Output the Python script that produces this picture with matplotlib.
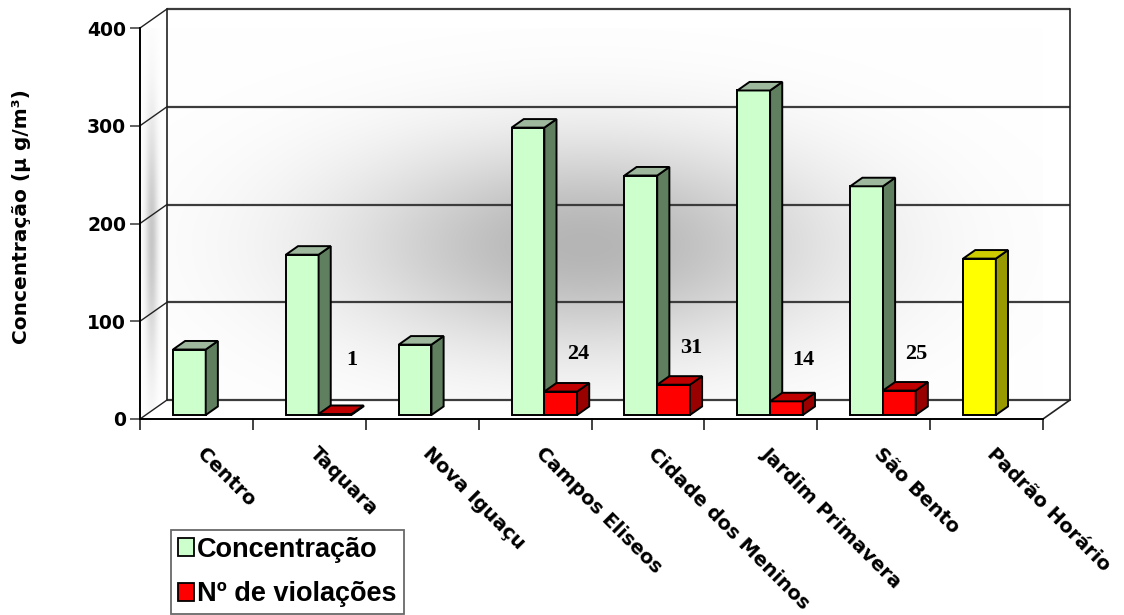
import numpy as np
import matplotlib
matplotlib.use("Agg")
import matplotlib.pyplot as plt
from matplotlib.patches import Polygon, Patch

# ---- data -------------------------------------------------------------
categories = ["Centro", "Taquara", "Nova Iguaçu", "Campos Eliseos",
              "Cidade dos Meninos", "Jardim Primavera", "São Bento",
              "Padrão Horário"]
concentracao = [67, 164, 72, 294, 245, 332, 234, 160]
violacoes = [None, 1, None, 24, 31, 14, 25, None]
yticks = [0, 100, 200, 300, 400]
legend_labels = ["Concentração", "Nº de violações"]
ylabel = "Concentração (μ g/m³)"

# ---- figure / axes frame -----------------------------------------------
W, H = 1124, 615
fig = plt.figure(figsize=(W / 100, H / 100), dpi=100)
fig.patch.set_facecolor("white")
PX0, PX1, PY0, PY1 = 140, 1043, 419, 28
ax = fig.add_axes([PX0 / W, 1 - PY0 / H, (PX1 - PX0) / W, (PY0 - PY1) / H])
n = len(categories)
ymax = yticks[-1]
ax.set_xlim(0, n)
ax.set_ylim(0, ymax)
ax.patch.set_visible(False)

sx = (PX1 - PX0) / n          # pixels per category
sy = (PY0 - PY1) / ymax       # pixels per value unit
DX = 27 / sx                  # depth offset (data units)
DY = 19 / sy


def proj(x, v, z):
    return (x + z * DX, v + z * DY)


# ---- walls and floor -----------------------------------------------------
back = Polygon([(DX, DY), (n + DX, DY), (n + DX, ymax + DY), (DX, ymax + DY)],
               closed=True, fc="none", ec="none", zorder=0)
left = Polygon([(0, 0), (DX, DY), (DX, ymax + DY), (0, ymax)],
               closed=True, fc="none", ec="none", zorder=0)
floor = Polygon([(0, 0), (n, 0), (n + DX, DY), (DX, DY)],
                closed=True, fc="white", ec="none", zorder=0)
for p in (back, left, floor):
    p.set_clip_on(False)
    ax.add_patch(p)

# shaded background for the walls (computed on a pixel grid)
gx = np.linspace(0, n + DX, 600)
gy = np.linspace(0, ymax + DY, 400)
XX, YY = np.meshgrid(gx, gy)
PXg = PX0 + XX * sx
PYg = PY0 - YY * sy
shade_back = 1 - 0.29 * np.exp(-((PXg - 585) / 240) ** 2 - ((PYg - 245) / 105) ** 2)
img = ax.imshow(np.dstack([shade_back] * 3), extent=[0, n + DX, 0, ymax + DY],
                origin="lower", aspect="auto", zorder=0, interpolation="bilinear")
img.set_clip_path(back)
shade_left = 1 - 0.22 * np.exp(-((PXg - 151) / 6) ** 2 - ((PYg - 240) / 120) ** 2)
img2 = ax.imshow(np.dstack([shade_left] * 3), extent=[0, n + DX, 0, ymax + DY],
                 origin="lower", aspect="auto", zorder=0, interpolation="bilinear")
img2.set_clip_path(left)

# gridlines on the back wall and their depth lines on the side wall
for v in yticks:
    ax.plot([DX, n + DX], [v + DY, v + DY], color="#3c3c3c", lw=1.6,
            zorder=1, clip_on=False, solid_capstyle="butt")
    ax.plot([0, DX], [v, v + DY], color="#222222", lw=1.0, zorder=1, clip_on=False)
ax.plot([DX, DX], [DY, ymax + DY], color="#222222", lw=1.2, zorder=1, clip_on=False)
ax.plot([n + DX, n + DX], [DY, ymax + DY], color="#222222", lw=1.2, zorder=1, clip_on=False)
ax.plot([n, n + DX], [0, DY], color="#222222", lw=1.2, zorder=1, clip_on=False)

# ---- 3-D columns ---------------------------------------------------------
Z0, Z1 = 0.21, 0.66
BW = 0.29
G_OFF = 0.242


def column(x, v, front, top, side, zo):
    a = proj(x, 0, Z0); b = proj(x + BW, 0, Z0)
    c = proj(x + BW, v, Z0); d = proj(x, v, Z0)
    b2 = proj(x + BW, 0, Z1); c2 = proj(x + BW, v, Z1); d2 = proj(x, v, Z1)
    faces = [([a, b, c, d], front), ([b, b2, c2, c], side), ([d, c, c2, d2], top)]
    for pts, col in faces:
        ax.add_patch(Polygon(pts, closed=True, fc=col, ec="black", lw=1.4,
                             joinstyle="miter", zorder=zo, clip_on=False))


for i, (cv, vv) in enumerate(zip(concentracao, violacoes)):
    xg = i + G_OFF
    if i == n - 1:
        column(xg, cv, "#FFFF00", "#CCCC00", "#999900", 3 + i * 0.01)
    else:
        column(xg, cv, "#CCFFCC", "#9DB89D", "#5F7F5F", 3 + i * 0.01)
    if vv is not None:
        xr = xg + BW
        column(xr, vv, "#FF0000", "#C00000", "#990000", 3.005 + i * 0.01)
        lx = xr + BW / 2 + 0.85 * DX
        ly = max(vv + 42, 60)
        ax.text(lx, ly, str(vv), ha="center", va="center", fontsize=16,
                fontweight="bold", family="Liberation Serif", zorder=6)

# ---- axes, ticks, labels -------------------------------------------------
for s in ("top", "right"):
    ax.spines[s].set_visible(False)
for s in ("left", "bottom"):
    ax.spines[s].set_linewidth(1.4)
    ax.spines[s].set_color("black")
    ax.spines[s].set_zorder(4)
ax.set_yticks(yticks)
ax.set_yticklabels([str(t) for t in yticks], fontsize=13.5, fontweight="bold",
                   family="DejaVu Sans")
ax.set_xticks(range(n + 1))
ax.set_xticklabels([])
ax.tick_params(axis="y", direction="out", length=7, width=1.3, pad=3,
               color="#555555")
ax.tick_params(axis="x", direction="out", length=8, width=1.3, color="#333333")

for i, cat in enumerate(categories):
    ax.text(i + 0.5 + 10 / sx, -25 / sy, cat, rotation=-45, rotation_mode="anchor",
            ha="left", va="top", fontsize=14, fontweight="bold",
            family="DejaVu Sans", clip_on=False)

fig.text(22 / W, 1 - 217 / H, ylabel, rotation=90, ha="center", va="center",
         fontsize=14.5, fontweight="bold", family="DejaVu Sans")

leg = fig.legend(
    handles=[Patch(fc="#CCFFCC", ec="black", lw=1.3),
             Patch(fc="#FF0000", ec="black", lw=1.3)],
    labels=legend_labels, loc="upper left",
    bbox_to_anchor=(171 / W, 1 - 530 / H), borderaxespad=0,
    prop={"family": "Liberation Sans", "weight": "bold", "size": 19.5},
    frameon=True, fancybox=False, shadow=False, borderpad=0.25,
    handlelength=0.6, handleheight=0.65, handletextpad=0.12, labelspacing=0.68)
leg.get_frame().set_edgecolor("#444444")
leg.get_frame().set_linewidth(1.3)

fig.savefig("out.png", dpi=100, facecolor="white")
